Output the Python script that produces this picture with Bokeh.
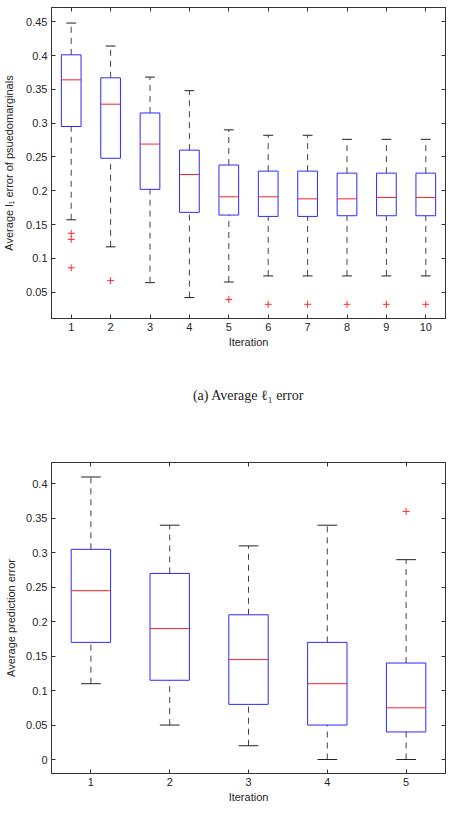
import numpy as np
from bokeh.plotting import figure
from bokeh.layouts import column
from bokeh.models import (ColumnDataSource, LinearAxis, FixedTicker, Range1d, Title,
                          CustomLabelingPolicy)
from bokeh.embed import file_html
from bokeh.resources import INLINE

# ---- (a) average l1 error of pseudomarginals per iteration ----
l1_iter = [1, 2, 3, 4, 5, 6, 7, 8, 9, 10]
l1_whisk_lo = [0.157, 0.117, 0.064, 0.042, 0.065, 0.074, 0.074, 0.074, 0.074, 0.074]
l1_q1 = [0.295, 0.248, 0.202, 0.168, 0.164, 0.162, 0.162, 0.163, 0.163, 0.163]
l1_median = [0.364, 0.328, 0.269, 0.224, 0.191, 0.191, 0.188, 0.188, 0.190, 0.190]
l1_q3 = [0.401, 0.367, 0.315, 0.260, 0.238, 0.229, 0.229, 0.226, 0.226, 0.226]
l1_whisk_hi = [0.448, 0.414, 0.368, 0.348, 0.290, 0.282, 0.282, 0.276, 0.276, 0.276]
l1_out_x = [1, 1, 1, 2, 5, 6, 7, 8, 9, 10]
l1_out_y = [0.137, 0.128, 0.086, 0.067, 0.039, 0.032, 0.032, 0.032, 0.032, 0.032]
l1_yticks = [0.05, 0.1, 0.15, 0.2, 0.25, 0.3, 0.35, 0.4, 0.45]

# ---- (b) average prediction error per iteration ----
pe_iter = [1, 2, 3, 4, 5]
pe_whisk_lo = [0.11, 0.05, 0.02, 0.0, 0.0]
pe_q1 = [0.17, 0.115, 0.08, 0.05, 0.04]
pe_median = [0.245, 0.19, 0.145, 0.11, 0.075]
pe_q3 = [0.305, 0.27, 0.21, 0.17, 0.14]
pe_whisk_hi = [0.41, 0.34, 0.31, 0.34, 0.29]
pe_out_x = [5]
pe_out_y = [0.36]
pe_yticks = [0, 0.05, 0.1, 0.15, 0.2, 0.25, 0.3, 0.35, 0.4]

BOX_W = 0.5
CAP_W = 0.25
FONT = "Liberation Sans"
TXT = "#262626"

# mirrored axes carry tick marks only, so no labels are kept for them
NO_LABELS = "for (const i of indices) { indices.unset(i) }\nreturn indices"


def make_box_plot(xs, wlo, q1, med, q3, whi, ox, oy, yticks, yrange, ylabel,
                  height, top_border, bottom_border, ylabel_standoff):
    n = len(xs)
    p = figure(width=455, height=height, output_backend="svg", toolbar_location=None,
               x_range=Range1d(0.5, n + 0.5), y_range=Range1d(*yrange),
               min_border_left=50, min_border_right=11,
               min_border_top=top_border, min_border_bottom=bottom_border,
               frame_width=394, frame_height=311)
    p.grid.visible = False
    p.outline_line_color = "#333333"
    p.outline_line_width = 1
    p.background_fill_color = "white"
    p.border_fill_color = "white"

    x = np.array(xs, dtype=float)
    src = ColumnDataSource(dict(
        x=x, wlo=wlo, q1=q1, med=med, q3=q3, whi=whi,
        bl=x - BOX_W / 2, br=x + BOX_W / 2,
        cl=x - CAP_W / 2, cr=x + CAP_W / 2,
    ))

    # dashed whiskers
    p.segment(x0="x", y0="q3", x1="x", y1="whi", source=src,
              line_color="#444444", line_width=1, line_dash="6 5")
    p.segment(x0="x", y0="wlo", x1="x", y1="q1", source=src,
              line_color="#444444", line_width=1, line_dash="6 5")
    # whisker caps
    p.segment(x0="cl", y0="whi", x1="cr", y1="whi", source=src,
              line_color="#222222", line_width=1)
    p.segment(x0="cl", y0="wlo", x1="cr", y1="wlo", source=src,
              line_color="#222222", line_width=1)
    # boxes
    p.quad(left="bl", right="br", bottom="q1", top="q3", source=src,
           fill_color=None, line_color="#2a2aff", line_width=1)
    # medians
    p.segment(x0="bl", y0="med", x1="br", y1="med", source=src,
              line_color="#ff2020", line_width=1)
    # outliers
    p.scatter(x=ox, y=oy, marker="cross", size=7, line_color="#ff2a2a", line_width=1)

    # main axes
    xa = p.xaxis[0]
    ya = p.yaxis[0]
    xa.ticker = FixedTicker(ticks=list(xs))
    ya.ticker = FixedTicker(ticks=yticks)
    ya.major_label_overrides = {t: ("0" if t == 0 else ("%g" % t)) for t in yticks}
    for ax in (xa, ya):
        ax.major_tick_out = 0
        ax.major_tick_in = 4
        ax.minor_tick_out = 0
        ax.minor_tick_in = 0
        ax.axis_line_color = "#333333"
        ax.major_tick_line_color = "#333333"
        ax.major_label_text_font = FONT
        ax.major_label_text_font_size = "11px"
        ax.major_label_text_color = TXT
        ax.axis_label_text_font = FONT
        ax.axis_label_text_font_size = "11px"
        ax.axis_label_text_font_style = "normal"
        ax.axis_label_text_color = TXT
        ax.major_label_standoff = 4
    xa.axis_label = "Iteration"
    xa.axis_label_standoff = 2
    ya.axis_label = ylabel
    ya.axis_label_standoff = ylabel_standoff

    # mirrored tick marks on top and right edges
    top_ax = LinearAxis(ticker=FixedTicker(ticks=list(xs)))
    right_ax = LinearAxis(ticker=FixedTicker(ticks=yticks))
    for ax in (top_ax, right_ax):
        ax.major_tick_out = 0
        ax.major_tick_in = 4
        ax.minor_tick_out = 0
        ax.minor_tick_in = 0
        ax.major_label_policy = CustomLabelingPolicy(code=NO_LABELS)
        ax.major_label_text_font_size = "1px"
        ax.major_label_standoff = 0
        ax.axis_line_color = "#333333"
        ax.major_tick_line_color = "#333333"
    p.add_layout(top_ax, "above")
    p.add_layout(right_ax, "right")
    return p


p1 = make_box_plot(l1_iter, l1_whisk_lo, l1_q1, l1_median, l1_q3, l1_whisk_hi,
                   l1_out_x, l1_out_y, l1_yticks, (0.011, 0.471),
                   "Average l\u2081 error of psuedomarginals",
                   height=440, top_border=7, bottom_border=122, ylabel_standoff=8)
cap = Title(text="(a) Average \u2113\u2081 error", align="center",
            text_font="Liberation Serif", text_font_size="14px",
            text_font_style="normal", text_color="#222222", standoff=70)
p1.add_layout(cap, "below")

p2 = make_box_plot(pe_iter, pe_whisk_lo, pe_q1, pe_median, pe_q3, pe_whisk_hi,
                   pe_out_x, pe_out_y, pe_yticks, (-0.0203, 0.431),
                   "Average prediction error",
                   height=390, top_border=22, bottom_border=57, ylabel_standoff=6)

layout = column(p1, p2, spacing=0)
open("out.html", "w").write(file_html(layout, INLINE))
